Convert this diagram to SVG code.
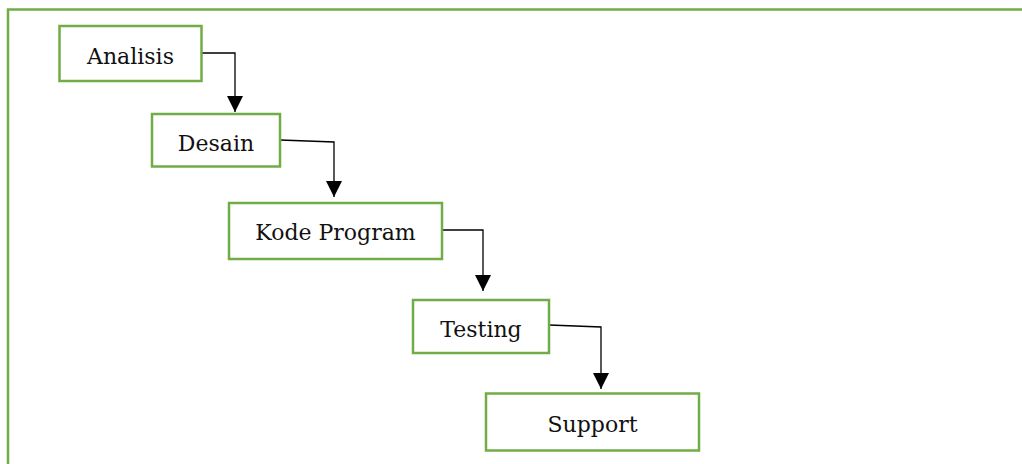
<svg xmlns="http://www.w3.org/2000/svg" width="1022" height="464" viewBox="0 0 1022 464">
<style>
.frame{fill:none;stroke:#70AD47;stroke-width:2.5}
.box rect{fill:#fff;stroke:#70AD47;stroke-width:2.5}
.box text{font-family:"DejaVu Serif","Liberation Serif",serif;font-size:22px;fill:#111;text-anchor:middle}
.conn path{fill:none;stroke:#000;stroke-width:1.3;marker-end:url(#arr)}
</style>
<defs>
<marker id="arr" markerUnits="userSpaceOnUse" markerWidth="16" markerHeight="16" viewBox="0 0 16 16" refX="16" refY="8" orient="auto">
<path d="M0,0 L16,8 L0,16 Z" fill="#000" stroke="none"/>
</marker>
</defs>
<rect width="1022" height="464" fill="#fff"/>
<path class="frame" d="M8,466 V9.5 H1024"/>
<g class="conn">
<path d="M202,53 H235 V112"/>
<path d="M280,140 L334,142 V197"/>
<path d="M442,230 H483 V291"/>
<path d="M549,325 L601,327 V389"/>
</g>
<g id="analisis" class="box"><rect x="59.5" y="26" width="142" height="55"/><text x="130.5" y="64">Analisis</text></g>
<g id="desain" class="box"><rect x="152" y="114" width="128" height="52.5"/><text x="216" y="151">Desain</text></g>
<g id="kode" class="box"><rect x="229" y="203" width="213" height="56"/><text x="335.5" y="240">Kode Program</text></g>
<g id="testing" class="box"><rect x="413" y="300" width="136" height="53"/><text x="481" y="337">Testing</text></g>
<g id="support" class="box"><rect x="486" y="393.5" width="213" height="57"/><text x="592.5" y="432">Support</text></g>
</svg>
